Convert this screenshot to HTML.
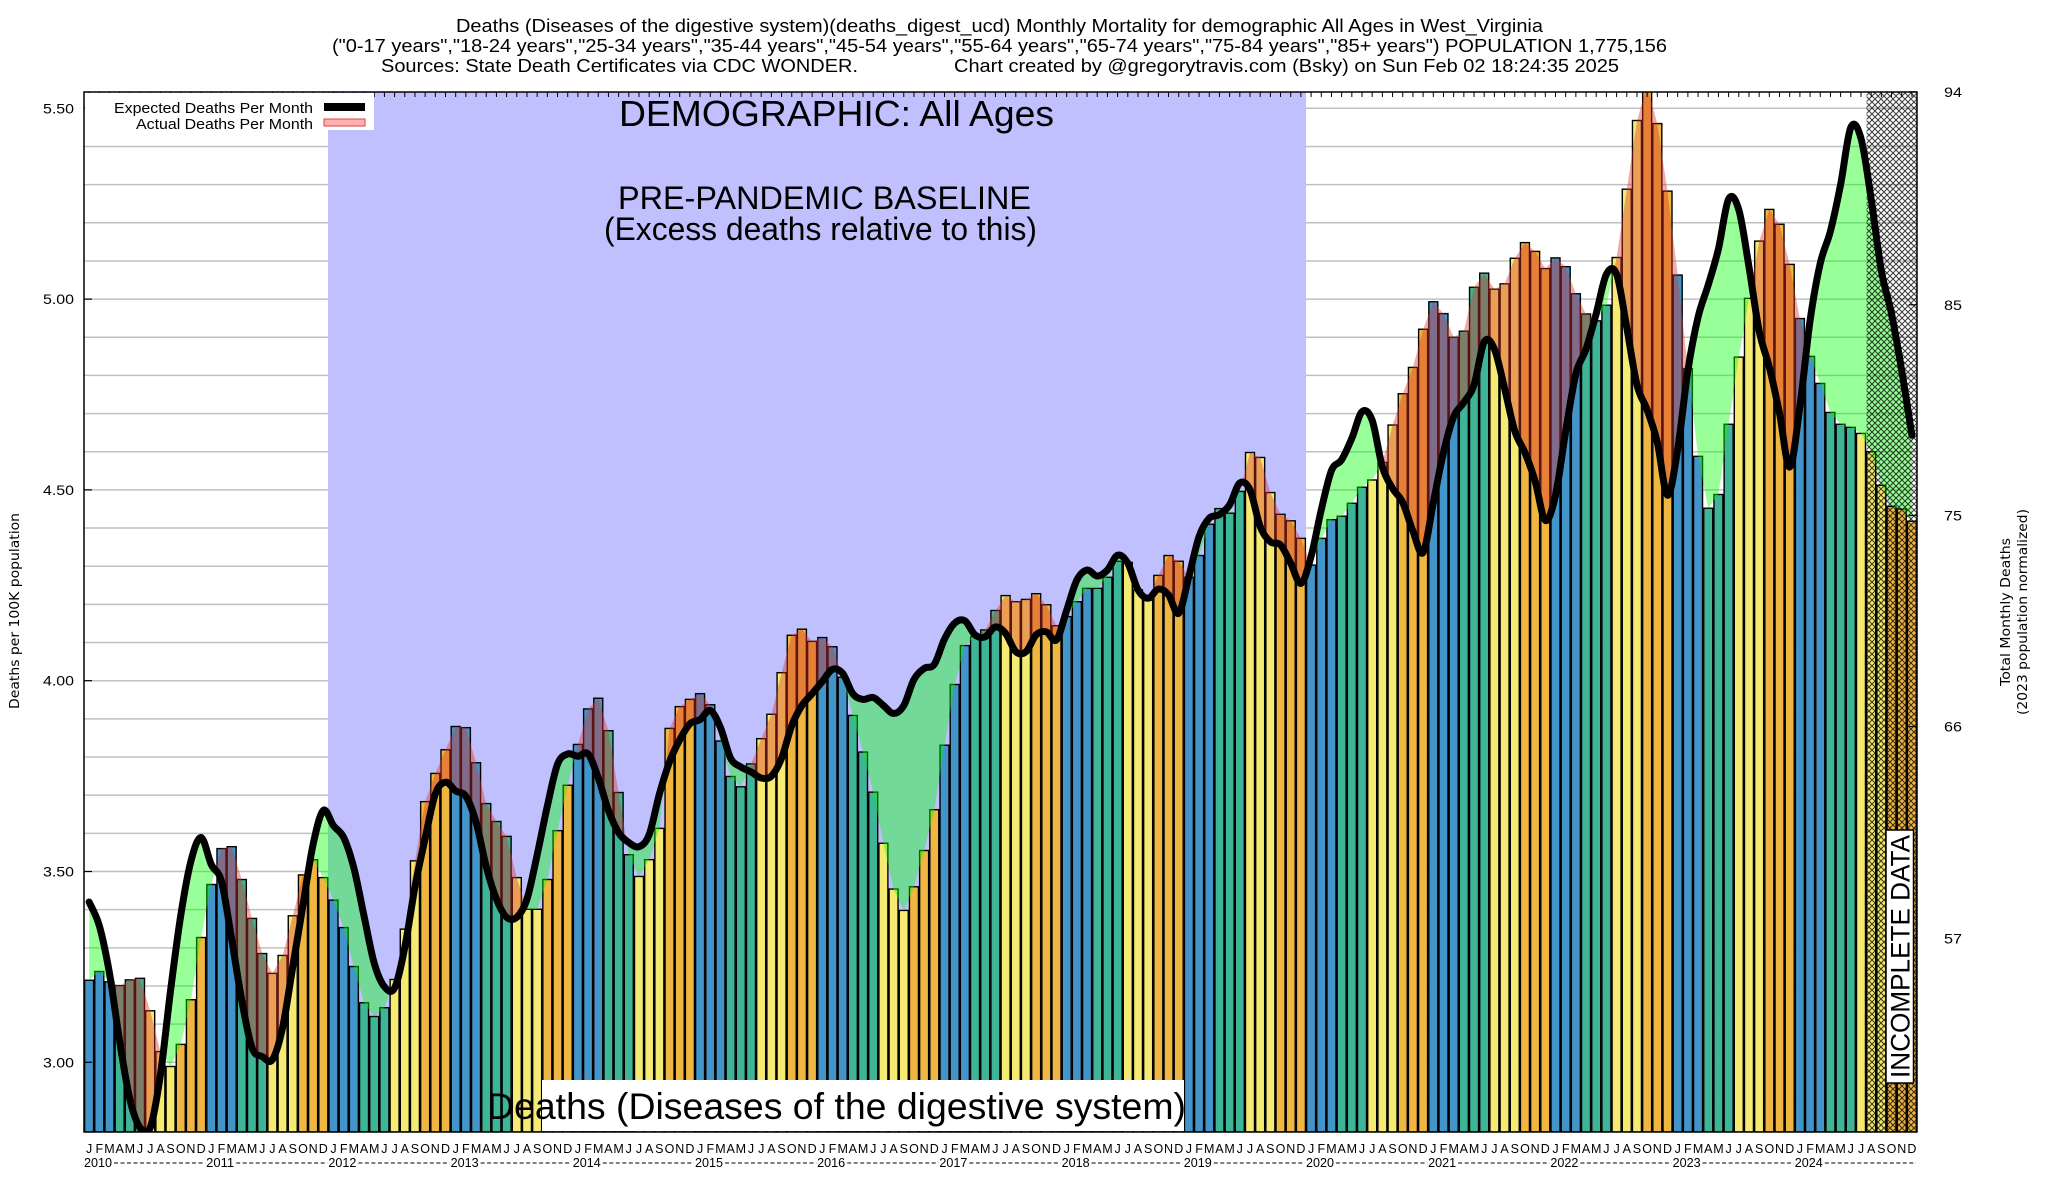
<!DOCTYPE html>
<html><head><meta charset="utf-8"><title>Deaths (Diseases of the digestive system) West Virginia</title>
<style>
html,body{margin:0;padding:0;background:#fff;}
svg{display:block;font-family:"Liberation Sans",sans-serif;}
</style></head>
<body>
<svg id="chart" width="2048" height="1200" viewBox="0 0 2048 1200" xmlns="http://www.w3.org/2000/svg">
<defs>
<clipPath id="plotClip"><rect x="84" y="92" width="1833" height="1040"/></clipPath>
<pattern id="hatch" width="6" height="6" patternUnits="userSpaceOnUse"><path d="M0,0L6,6M6,0L0,6" stroke="#000" stroke-width="1.1"/></pattern>
</defs>
<rect x="0" y="0" width="2048" height="1200" fill="#fff"/>
<g font-size="18" text-anchor="start">
<text x="456" y="32" textLength="1087" lengthAdjust="spacingAndGlyphs">Deaths (Diseases of the digestive system)(deaths_digest_ucd) Monthly Mortality for demographic All Ages in West_Virginia</text>
<text x="332" y="52" textLength="1335" lengthAdjust="spacingAndGlyphs">("0-17 years","18-24 years","25-34 years","35-44 years","45-54 years","55-64 years","65-74 years","75-84 years","85+ years") POPULATION 1,775,156</text>
<text x="381" y="72" textLength="477" lengthAdjust="spacingAndGlyphs">Sources: State Death Certificates via CDC WONDER.</text>
<text x="954" y="72" textLength="665" lengthAdjust="spacingAndGlyphs">Chart created by @gregorytravis.com (Bsky) on Sun Feb 02 18:24:35 2025</text>
</g>
<g id="grid"></g>
<rect x="328" y="92" width="978" height="1040" fill="#c0c0ff"/>
<g id="bars" clip-path="url(#plotClip)"></g>
<g id="fills" clip-path="url(#plotClip)"></g>
<rect x="1866.6" y="92" width="50.4" height="1040" fill="url(#hatch)" opacity="0.75"/>
<g id="lines" clip-path="url(#plotClip)"></g>
<g id="ticks"></g>
<rect x="84" y="92" width="1833" height="1040" fill="none" stroke="#000" stroke-width="1.5"/>
<g>
<rect x="85" y="93" width="289" height="37" fill="#fff"/>
<text x="313" y="113" font-size="15" text-anchor="end" textLength="199" lengthAdjust="spacingAndGlyphs">Expected Deaths Per Month</text>
<rect x="324" y="103" width="41" height="8" fill="#000"/>
<text x="313" y="129" font-size="15" text-anchor="end" textLength="177" lengthAdjust="spacingAndGlyphs">Actual Deaths Per Month</text>
<rect x="324" y="119" width="41" height="7" fill="#ffb0b0" stroke="#e04040" stroke-width="1"/>
</g>
<text x="619" y="126" font-size="36" textLength="435" lengthAdjust="spacingAndGlyphs">DEMOGRAPHIC: All Ages</text>
<text x="618" y="209" font-size="32" textLength="413" lengthAdjust="spacingAndGlyphs">PRE-PANDEMIC BASELINE</text>
<text x="604" y="240" font-size="32" textLength="433" lengthAdjust="spacingAndGlyphs">(Excess deaths relative to this)</text>
<rect x="542" y="1080" width="642" height="51" fill="#fff"/>
<text x="487" y="1119" font-size="37" textLength="699" lengthAdjust="spacingAndGlyphs">Deaths (Diseases of the digestive system)</text>
<g>
<rect x="1886" y="830" width="27.5" height="253" fill="#fff" stroke="#000" stroke-width="1.5"/>
<text x="0" y="0" font-size="27" transform="translate(1909.5,1078) rotate(-90)" textLength="243" lengthAdjust="spacingAndGlyphs">INCOMPLETE DATA</text>
</g>
<text x="0" y="0" font-size="13" text-anchor="middle" transform="translate(19,611) rotate(-90)" textLength="196" lengthAdjust="spacingAndGlyphs" font-family="DejaVu Sans, sans-serif">Deaths per 100K population</text>
<text x="0" y="0" font-size="13" text-anchor="middle" transform="translate(2010,612) rotate(-90)" textLength="148" lengthAdjust="spacingAndGlyphs" font-family="DejaVu Sans, sans-serif">Total Monthly Deaths</text>
<text x="0" y="0" font-size="13" text-anchor="middle" transform="translate(2027,612) rotate(-90)" textLength="206" lengthAdjust="spacingAndGlyphs" font-family="DejaVu Sans, sans-serif">(2023 population normalized)</text>
</svg>
<script>
const actualValues = [
3.215,3.238,3.211,3.201,3.216,3.220,3.135,3.028,2.989,3.047,3.164,3.327,
3.466,3.560,3.565,3.479,3.377,3.285,3.233,3.280,3.384,3.491,3.531,3.484,
3.425,3.353,3.251,3.156,3.120,3.143,3.217,3.349,3.528,3.683,3.757,3.819,
3.880,3.877,3.785,3.678,3.631,3.592,3.484,3.401,3.401,3.479,3.607,3.726,
3.833,3.926,3.954,3.869,3.707,3.544,3.487,3.531,3.613,3.875,3.932,3.951,
3.966,3.937,3.842,3.749,3.722,3.782,3.848,3.912,4.021,4.119,4.135,4.103,
4.113,4.089,4.009,3.909,3.813,3.708,3.574,3.454,3.398,3.460,3.555,3.662,
3.831,3.990,4.092,4.115,4.133,4.184,4.223,4.207,4.213,4.228,4.199,4.144,
4.168,4.207,4.242,4.242,4.271,4.313,4.310,4.238,4.211,4.276,4.328,4.313,
4.271,4.328,4.410,4.451,4.439,4.496,4.598,4.585,4.493,4.436,4.419,4.373,
4.303,4.373,4.422,4.431,4.465,4.507,4.526,4.572,4.670,4.752,4.821,4.921,
4.993,4.962,4.900,4.916,5.031,5.068,5.026,5.040,5.107,5.148,5.125,5.080,
5.108,5.085,5.014,4.961,4.943,4.984,5.109,5.288,5.468,5.560,5.460,5.283,
5.063,4.818,4.588,4.452,4.488,4.672,4.848,5.002,5.152,5.235,5.196,5.091,
4.949,4.850,4.779,4.703,4.672,4.664,4.648,4.600,4.512,4.457,4.450,4.418];
const expectedValues = [
3.420,3.358,3.233,3.056,2.904,2.829,2.829,2.967,3.189,3.384,3.527,3.589,
3.518,3.474,3.322,3.162,3.038,3.015,3.007,3.091,3.251,3.411,3.571,3.660,
3.620,3.589,3.509,3.384,3.260,3.198,3.195,3.301,3.460,3.586,3.703,3.734,
3.711,3.697,3.629,3.513,3.428,3.380,3.380,3.428,3.544,3.671,3.781,3.808,
3.802,3.808,3.745,3.660,3.602,3.576,3.565,3.597,3.703,3.787,3.845,3.887,
3.898,3.922,3.877,3.797,3.774,3.761,3.745,3.750,3.797,3.882,3.935,3.966,
3.998,4.030,4.019,3.966,3.951,3.956,3.935,3.914,3.935,4.003,4.032,4.043,
4.109,4.151,4.157,4.120,4.115,4.141,4.124,4.076,4.076,4.120,4.128,4.107,
4.185,4.264,4.290,4.274,4.290,4.329,4.308,4.238,4.216,4.240,4.225,4.177,
4.273,4.378,4.426,4.435,4.461,4.518,4.500,4.404,4.364,4.356,4.308,4.255,
4.326,4.448,4.551,4.579,4.635,4.705,4.682,4.560,4.504,4.467,4.392,4.336,
4.467,4.598,4.692,4.729,4.775,4.888,4.869,4.766,4.654,4.598,4.523,4.420,
4.486,4.654,4.804,4.869,4.962,5.065,5.065,4.925,4.775,4.710,4.625,4.486,
4.607,4.813,4.953,5.037,5.131,5.262,5.234,5.084,4.916,4.822,4.701,4.560,
4.719,4.944,5.094,5.178,5.300,5.450,5.421,5.262,5.074,4.962,4.813,4.643];
const years = [2010,2011,2012,2013,2014,2015,2016,2017,2018,2019,2020,2021,2022,2023,2024];
const monthLetters = ["J","F","M","A","M","J","J","A","S","O","N","D"];
const leftTickLabels = ["3.00","3.50","4.00","4.50","5.00","5.50"];
const leftTickValues = [3.0,3.5,4.0,4.5,5.0,5.5];
const rightTickLabels = ["94","85","75","66","57"];
const rightTickValues = [5.543,4.985,4.433,3.880,3.325];

const NS="http://www.w3.org/2000/svg";
const X0=84,X1=1917,Y0=92,Y1=1132,N=actualValues.length,MW=(X1-X0)/N;
function xs(i){return X0+i*MW;}
function xc(i){return X0+(i+0.5)*MW;}
function yv(v){return 1062.3-(v-3)*381.6;}
function mk(tag,attrs,parent){const e=document.createElementNS(NS,tag);for(const k in attrs)e.setAttribute(k,attrs[k]);parent.appendChild(e);return e;}
const seasonColors=["#4394c8","#3fb597","#f5eb72","#efb742"];

// grid
const grid=document.getElementById('grid');
for(let k=0;k<=27;k++){const v=2.9+k*0.1;const y=yv(v);if(y<Y0||y>Y1)continue;
 const l=mk('line',{x1:X0,x2:X1,y1:y,y2:y,stroke:'#c0c0c0','stroke-width':1.5},grid);
 
 }

// bars
const bars=document.getElementById('bars');
actualValues.forEach((v,i)=>{const y=Math.max(yv(v),Y0-5);
 const r=mk('rect',{x:xs(i)+0.6,y:y,width:MW-1.2,height:Y1-y,fill:seasonColors[Math.floor((i%12)/3)],stroke:'#000','stroke-width':1.4},bars);
 
 });

// fills between actual and expected
const fills=document.getElementById('fills');
const defs=document.querySelector('defs');
let aPts=actualValues.map((v,i)=>[xc(i),yv(v)]);
let ePts=expectedValues.map((v,i)=>[xc(i),yv(v)]);
const aStr=aPts.map(p=>p[0].toFixed(1)+','+p[1].toFixed(1)).join(' L');
const between='M'+aStr+' L'+ePts.slice().reverse().map(p=>p[0].toFixed(1)+','+p[1].toFixed(1)).join(' L')+' Z';
const cpU=mk('clipPath',{id:'aboveActual'},defs);
mk('path',{d:'M'+aStr+' L'+xc(N-1)+','+(Y0-50)+' L'+xc(0)+','+(Y0-50)+' Z'},cpU);
const cpD=mk('clipPath',{id:'belowActual'},defs);
mk('path',{d:'M'+aStr+' L'+xc(N-1)+','+(Y1+50)+' L'+xc(0)+','+(Y1+50)+' Z'},cpD);
const g1=mk('g',{'clip-path':'url(#aboveActual)'},fills);
const gf=mk('path',{d:between,fill:'rgba(0,255,0,0.4)'},g1);


const g2=mk('g',{'clip-path':'url(#belowActual)'},fills);
const rf=mk('path',{d:between,fill:'rgba(220,45,40,0.4)'},g2);



// expected smooth line (Catmull-Rom)
let d='M'+ePts[0][0].toFixed(1)+','+ePts[0][1].toFixed(1);
for(let i=0;i<ePts.length-1;i++){const p0=ePts[Math.max(0,i-1)],p1=ePts[i],p2=ePts[i+1],p3=ePts[Math.min(ePts.length-1,i+2)];
 const c1=[p1[0]+(p2[0]-p0[0])/6,p1[1]+(p2[1]-p0[1])/6],c2=[p2[0]-(p3[0]-p1[0])/6,p2[1]-(p3[1]-p1[1])/6];
 d+=' C'+c1[0].toFixed(1)+','+c1[1].toFixed(1)+' '+c2[0].toFixed(1)+','+c2[1].toFixed(1)+' '+p2[0].toFixed(1)+','+p2[1].toFixed(1);}
const el=mk('path',{d:d,fill:'none',stroke:'#000','stroke-width':7,'stroke-linejoin':'round','stroke-linecap':'round'},document.getElementById('lines'));



// ticks & labels
const ticks=document.getElementById('ticks');
for(let i=0;i<N;i++){const t=mk('line',{x1:xc(i),x2:xc(i),y1:Y0,y2:Y0+5,stroke:'#000','stroke-width':1},ticks);
 
 
 const m=mk('text',{x:xc(i),y:1153,'font-size':12.5,'text-anchor':'middle'},ticks);m.textContent=monthLetters[i%12];
 
 }
years.forEach((yr,k)=>{const x=xs(k*12);
 const t=mk('text',{x:x,y:1167,'font-size':12.5,textLength:28,lengthAdjust:'spacingAndGlyphs'},ticks);t.textContent=String(yr);
 
 
 const ln=mk('line',{x1:x+30,x2:xs((k+1)*12)-1,y1:1163,y2:1163,stroke:'#000','stroke-width':1,'stroke-dasharray':'4,2.5'},ticks);
 
 });
leftTickValues.forEach((v,k)=>{const y=yv(v);
 const t=mk('text',{x:74,y:y+5,'font-size':14,'text-anchor':'end',textLength:31,lengthAdjust:'spacingAndGlyphs'},ticks);t.textContent=leftTickLabels[k];
 
 
 const l=mk('line',{x1:X0,x2:X0+8,y1:y,y2:y,stroke:'#000','stroke-width':1.2},ticks);
 
 });
rightTickValues.forEach((v,k)=>{const y=yv(v);
 const t=mk('text',{x:1944,y:y+5,'font-size':14,textLength:18,lengthAdjust:'spacingAndGlyphs'},ticks);t.textContent=rightTickLabels[k];
 
 
 const l=mk('line',{x1:X1-8,x2:X1,y1:y,y2:y,stroke:'#000','stroke-width':1.2},ticks);
 
 });
</script>
</body></html>
